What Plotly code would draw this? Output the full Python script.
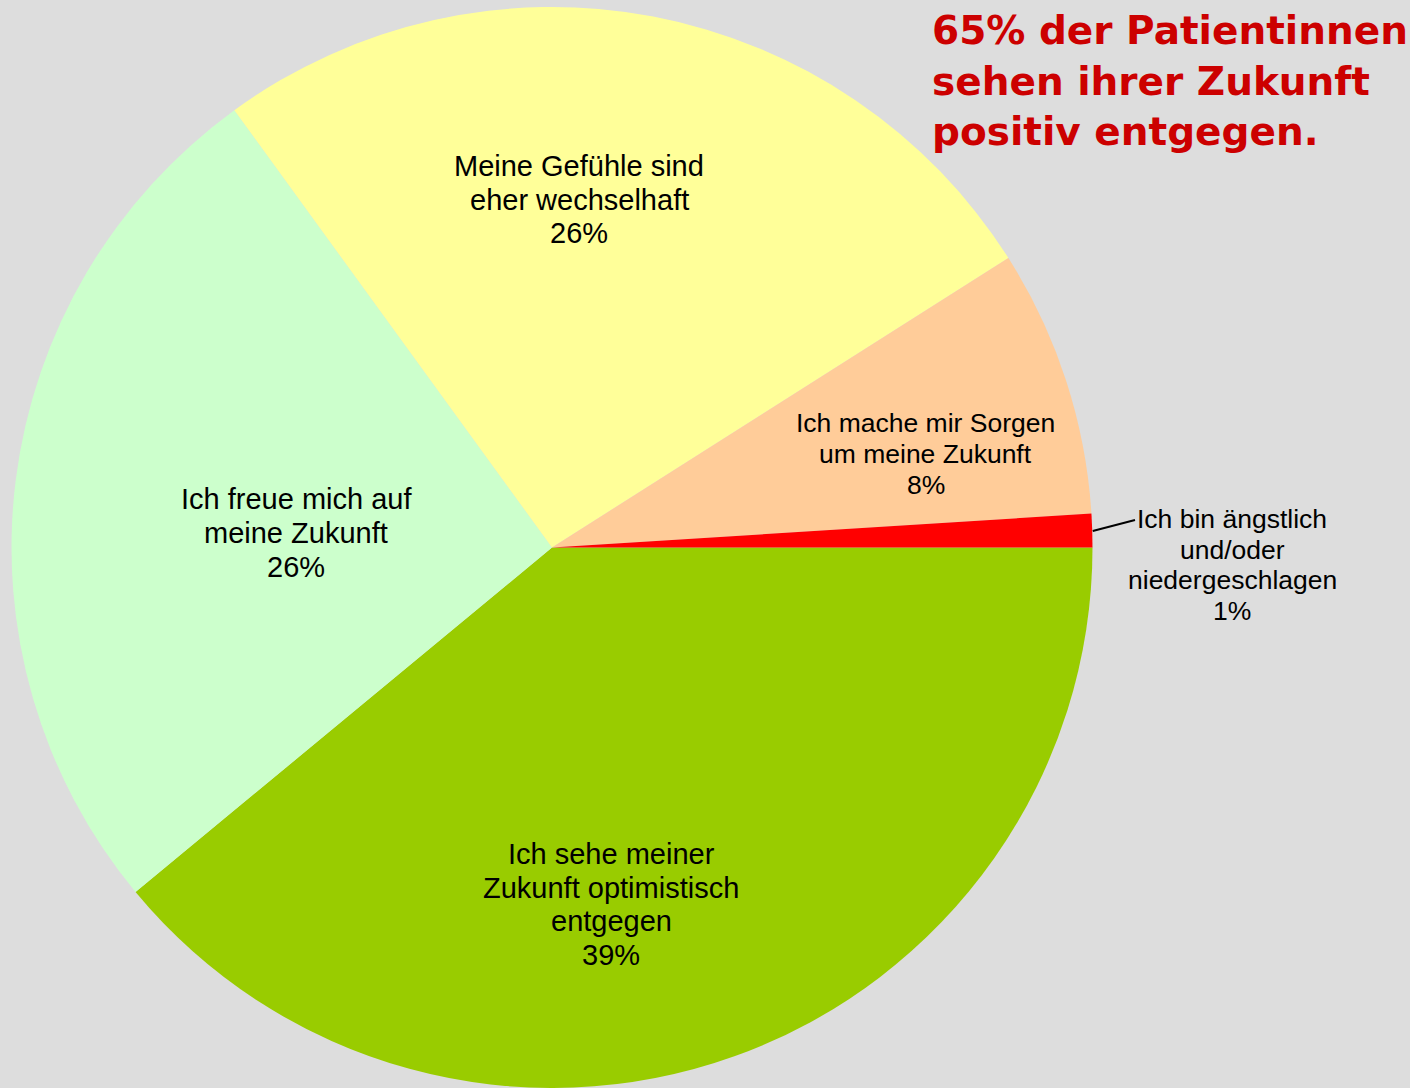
import math
import plotly.graph_objects as go

# Survey answers, listed clockwise from 3 o'clock
labels = [
    "Ich sehe meiner<br>Zukunft optimistisch<br>entgegen",
    "Ich freue mich auf<br>meine Zukunft",
    "Meine Gefühle sind<br>eher wechselhaft",
    "Ich mache mir Sorgen<br>um meine Zukunft",
    "Ich bin ängstlich<br>und/oder<br>niedergeschlagen",
]
shares = [39, 26, 26, 8, 1]
colors = ["#99CC00", "#CCFFCC", "#FFFF99", "#FFCC99", "#FF0000"]

headline = "65% der Patientinnen<br>sehen ihrer Zukunft<br>positiv entgegen."

W, H = 1410, 1088
CX, CY, R = 552, 548, 541  # pie centre and radius in pixels

# label block centres (px), line spacing (px) and font size per slice
label_pos = [(611, 904.5), (296, 533), (579, 199.5), (926, 454), (1232, 565)]
label_gap = [33.7, 34, 33.5, 31, 30.7]
label_size = [29, 29, 29, 26.5, 26.5]


def px(x):
    return x / W


def py(y):
    return 1 - y / H


fig = go.Figure(
    go.Pie(
        labels=[l.replace("<br>", " ") for l in labels],
        values=shares,
        marker=dict(colors=colors, line=dict(width=0)),
        sort=False,
        direction="clockwise",
        rotation=90,
        textinfo="none",
        hoverinfo="label+percent",
        showlegend=False,
        domain=dict(x=[px(CX - R), px(CX + R)], y=[py(CY + R - 1), py(CY - R)]),
    )
)

annotations = []
total = sum(shares)
for text, v, (lx, ly), gap, size in zip(labels, shares, label_pos, label_gap, label_size):
    lines = text.split("<br>") + [f"{round(100 * v / total)}%"]
    n = len(lines)
    for i, line in enumerate(lines):
        annotations.append(
            dict(
                x=px(lx),
                y=py(ly + (i - (n - 1) / 2) * gap),
                xref="paper",
                yref="paper",
                text=line,
                showarrow=False,
                xanchor="center",
                yanchor="middle",
                font=dict(family="Liberation Sans, Arial, sans-serif", size=size, color="#000000"),
            )
        )

annotations.append(
    dict(
        x=px(930),
        y=py(81),
        xref="paper",
        yref="paper",
        text=headline,
        showarrow=False,
        xanchor="left",
        yanchor="middle",
        align="left",
        font=dict(family="DejaVu Sans, Verdana, sans-serif", size=39, color="#CC0000", weight="bold"),
    )
)

# leader line from the middle of the smallest slice to its outside label
cum_before = sum(shares[:-1])
mid = 2 * math.pi * (cum_before + shares[-1] / 2) / total
sx, sy = CX + R * math.cos(mid), CY + R * math.sin(mid)
shapes = [
    dict(
        type="line",
        xref="paper",
        yref="paper",
        x0=px(sx),
        y0=py(sy),
        x1=px(1135),
        y1=py(520),
        line=dict(color="#000000", width=2),
    )
]

fig.update_layout(
    width=W,
    height=H,
    margin=dict(l=0, r=0, t=0, b=0),
    paper_bgcolor="#DDDDDD",
    plot_bgcolor="#DDDDDD",
    annotations=annotations,
    shapes=shapes,
)

fig.write_html("out.html")
